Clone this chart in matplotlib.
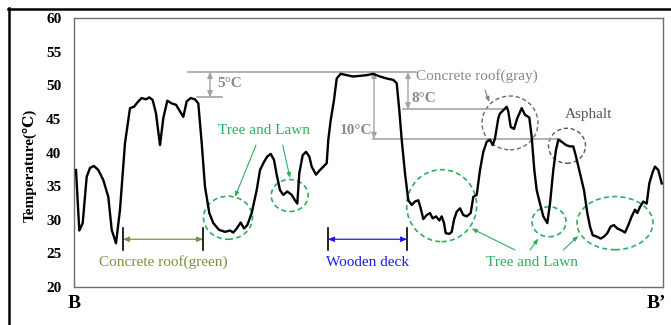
import matplotlib
matplotlib.use("Agg")
import matplotlib.pyplot as plt
from matplotlib.patches import Ellipse
from matplotlib.lines import Line2D

plt.rcParams['font.family'] = ['Liberation Serif', 'DejaVu Serif']

# Transect B -> B' : position along the profile and surface temperature (°C)
position = [
    2, 5.3, 8.7, 12.7, 16, 20, 24.3, 29.3, 34.3, 37.7,
    42, 46, 51, 56, 60, 64.3, 67.7, 72, 75.3, 78.7,
    82, 86, 89.3, 93.3, 97.7, 102, 106, 109.3, 112.7, 116.7,
    121, 124.3, 127.7, 131, 135.3, 139.3, 145, 151, 156, 159.3,
    162.7, 166.7, 170, 173.3, 177.7, 182.7, 186, 190, 193.3, 196.7,
    200, 202.7, 206, 209.3, 213.3, 217.7, 221, 223.3, 225.3, 228.7,
    232, 235.3, 237.7, 242, 246, 250, 252.7, 254.3, 256.7, 260,
    262.7, 266.7, 272.7, 279.3, 286, 292.7, 299.3, 306, 312.7, 319.3,
    322.7, 325.3, 327.7, 331, 334.3, 337.7, 341, 344.3, 346.7, 349.3,
    352.7, 356, 358.7, 362, 365.3, 367.7, 370, 371.7, 375.3, 377.7,
    380, 382.7, 386, 389.3, 392.7, 396.7, 399.3, 402.7, 406, 409.3,
    412.7, 416, 418.7, 421, 424.3, 426, 429.3, 432.7, 434.3, 436.7,
    440, 443.3, 447.7, 451, 455.3, 457.7, 460.3, 462.7, 466, 469.3,
    473.3, 476, 479.3, 482, 484.3, 487.7, 492, 496, 499.3, 502,
    506, 510, 513.3, 516, 518.7, 522.7, 526.7, 530, 533.3, 536.7,
    540, 543.3, 547.7, 551, 554.3, 557.7, 561, 563.3, 566, 569.3,
    572.7, 575.3, 578.7, 581, 584.3, 587.7,
]
temperature = [
    37.4, 28.4, 29.5, 36.4, 37.7, 38.0, 37.4, 35.9, 33.4, 28.5,
    26.5, 31.5, 41.4, 46.6, 46.8, 47.6, 48.1, 47.9, 48.2, 47.8,
    45.8, 41.1, 45.1, 47.7, 47.3, 47.1, 46.1, 45.3, 47.6, 48.1,
    47.9, 47.3, 41.4, 34.9, 31.0, 29.5, 28.5, 28.2, 28.4, 28.1,
    28.7, 29.6, 28.7, 29.2, 31.0, 34.4, 37.4, 38.6, 39.4, 39.8,
    38.9, 36.7, 34.4, 33.7, 34.2, 33.7, 32.9, 32.4, 36.9, 39.6,
    40.1, 39.4, 37.9, 36.7, 37.4, 38.0, 38.4, 41.9, 44.8, 47.8,
    51.0, 51.7, 51.5, 51.3, 51.4, 51.5, 51.7, 51.3, 51.0, 50.8,
    50.3, 46.3, 41.9, 36.9, 32.9, 32.2, 32.7, 32.9, 31.7, 30.1,
    30.7, 31.0, 30.2, 30.5, 29.9, 30.5, 29.5, 28.0, 27.9, 28.2,
    30.0, 31.2, 31.7, 30.7, 30.5, 31.0, 33.4, 33.7, 37.4, 40.1,
    41.6, 41.9, 41.1, 42.1, 45.1, 45.8, 46.3, 46.8, 46.1, 43.8,
    43.5, 45.1, 46.6, 45.6, 45.2, 42.3, 37.4, 34.4, 32.4, 30.5,
    29.5, 32.4, 37.4, 40.4, 41.9, 41.6, 41.1, 40.9, 40.9, 39.4,
    36.9, 34.4, 31.0, 29.0, 27.7, 27.5, 27.2, 27.5, 28.0, 29.0,
    29.2, 28.7, 28.4, 28.1, 29.2, 30.5, 31.5, 31.0, 31.9, 32.7,
    32.4, 35.4, 37.1, 37.9, 37.4, 35.4,
]
y_ticks = [20, 25, 30, 35, 40, 45, 50, 55, 60]

W, H = 671, 325
fig = plt.figure(figsize=(W / 100, H / 100), dpi=100)
ax = fig.add_axes([74 / W, (H - 287) / H, (663 - 74) / W, (287 - 18) / H])

ax.plot(position, temperature, color='black', lw=1.7, solid_joinstyle='round', zorder=5)

ax.set_xlim(0, 589)
ax.set_ylim(20, 60)
ax.set_xticks([])
ax.set_yticks(y_ticks)
ax.set_yticklabels([str(v) for v in y_ticks], fontsize=11, fontweight='bold')
ax.tick_params(axis='y', length=0, pad=9)
for sp in ax.spines.values():
    sp.set_color('#6e6e6e')
    sp.set_linewidth(1.0)

fig.text(30 / W, 1 - 165 / H, 'Temperature(℃)', rotation=90, fontsize=11,
         fontweight='bold', ha='center', va='center')
fig.text(74 / W, 1 - 303 / H, 'B', fontsize=14, fontweight='bold', ha='center', va='center')
fig.text(656 / W, 1 - 303 / H, 'B\u2019', fontsize=14, fontweight='bold', ha='center', va='center')

# outer frame (left and top edges)
fig.add_artist(Line2D([8.5 / W, 8.5 / W], [0, 1 - 8 / H], color='black', lw=1.8))
fig.add_artist(Line2D([8 / W, 1], [1 - 8.5 / H, 1 - 8.5 / H], color='black', lw=1.8))

# temperature-difference reference lines
gray_line = '#a3a3a3'
gray_txt = '#8a8a8a'
ax.plot([114, 342], [52.0, 52.0], color=gray_line, lw=1.2, clip_on=False)
ax.plot([123, 148], [48.2, 48.2], color=gray_line, lw=1.2)
ax.plot([329, 431], [46.4, 46.4], color=gray_line, lw=1.2)
ax.plot([299, 486], [42.0, 42.0], color=gray_line, lw=1.2)

arrow_kw = dict(arrowstyle='<|-|>,head_length=0.35,head_width=0.15', color=gray_line,
                lw=1.0, shrinkA=0, shrinkB=0)
ax.annotate('', xy=(136, 52.0), xytext=(136, 48.2), arrowprops=arrow_kw)
ax.annotate('', xy=(334, 52.0), xytext=(334, 46.4), arrowprops=arrow_kw)
ax.annotate('', xy=(300, 52.0), xytext=(300, 42.0), arrowprops=arrow_kw)

ax.text(143, 50.2, '5°C', color=gray_txt, fontsize=11, fontweight='bold', va='center')
ax.text(338, 48.1, '8°C', color=gray_txt, fontsize=11, fontweight='bold', va='center')
ax.text(298, 43.3, '10°C', color=gray_txt, fontsize=11, fontweight='bold', va='center', ha='right')

# concrete roof (gray) and asphalt
ax.text(342, 51.4, 'Concrete roof(gray)', color=gray_txt, fontsize=11, va='center')
ax.annotate('', xy=(415.3, 47.5), xytext=(411, 49.3),
            arrowprops=dict(arrowstyle='-|>,head_length=0.3,head_width=0.12',
                            color='#808080', lw=0.8, shrinkA=0, shrinkB=0))
ax.add_patch(Ellipse((436, 44.4), 56, 8.0, fill=False, ls=(0, (3, 2)),
                     ec='#6a6a6a', lw=1.0))
ax.text(515, 45.7, 'Asphalt', color='#555555', fontsize=11, ha='center', va='center')
ax.add_patch(Ellipse((493, 41.0), 37, 5.2, fill=False, ls=(0, (3, 2)),
                     ec='#555555', lw=1.0))

# tree and lawn areas
green = '#2fae60'
for cx, cy, w, h in [(154, 30.3, 49, 6.4), (215.7, 33.6, 37, 4.76),
                     (367.7, 32.1, 70, 10.7), (475, 29.7, 34, 4.46),
                     (541, 29.5, 76, 7.9)]:
    ax.add_patch(Ellipse((cx, cy), w, h, fill=False, ls=(0, (3, 2)), ec=green, lw=1.2))

g_arrow = dict(arrowstyle='-|>,head_length=0.3,head_width=0.12', color=green,
               lw=0.8, shrinkA=0, shrinkB=0)
ax.text(189.5, 43.2, 'Tree and Lawn', color=green, fontsize=11, ha='center', va='center')
ax.annotate('', xy=(161, 33.4), xytext=(182, 41.1), arrowprops=g_arrow)
ax.annotate('', xy=(216, 36.2), xytext=(208.7, 41.1), arrowprops=g_arrow)

ax.text(458.5, 23.7, 'Tree and Lawn', color=green, fontsize=11, ha='center', va='center')
ax.annotate('', xy=(397.7, 28.7), xytext=(441, 25.5), arrowprops=g_arrow)
ax.annotate('', xy=(464.3, 27.2), xytext=(456, 25.5), arrowprops=g_arrow)
ax.annotate('', xy=(504.3, 27.6), xytext=(489.3, 25.5), arrowprops=g_arrow)

# extent markers for roof and deck
def extent(x0, x1, color, label):
    for x in (x0, x1):
        ax.plot([x, x], [25.5, 28.8], color='black', lw=1.2)
    ax.annotate('', xy=(x0, 27.1), xytext=(x1, 27.1),
                arrowprops=dict(arrowstyle='<|-|>,head_length=0.35,head_width=0.15',
                                color=color, lw=0.9, shrinkA=0, shrinkB=0))
    ax.text((x0 + x1) / 2, 23.7, label, color=color, fontsize=11, ha='center', va='center')

extent(49, 129, '#77933c', 'Concrete roof(green)')
extent(254, 333, '#1a1aee', 'Wooden deck')

fig.savefig('out.png', dpi=100)
